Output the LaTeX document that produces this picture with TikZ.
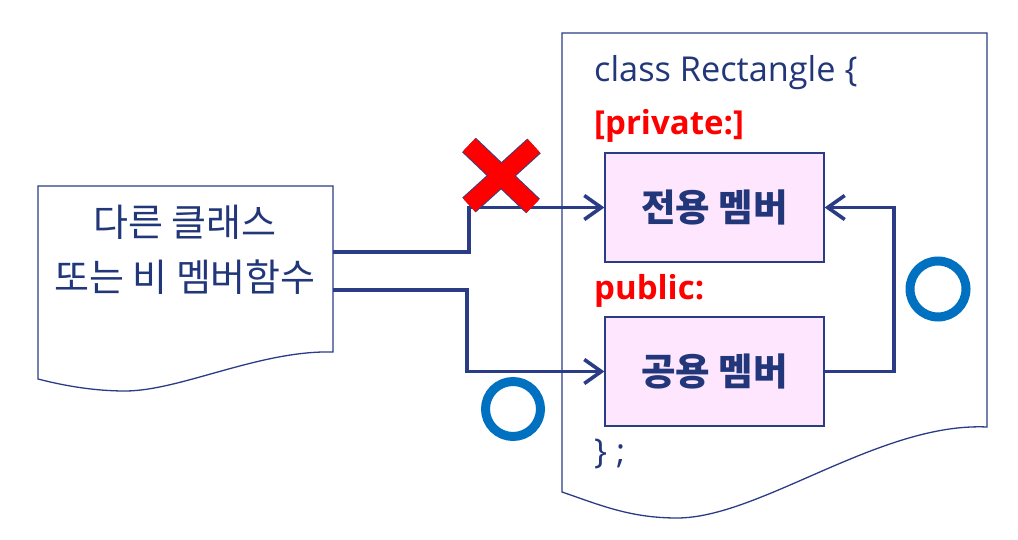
\documentclass[tikz,border=0pt]{standalone}
\usepackage{fontspec}
\setmainfont{Open Sans}
\newfontfamily\kr{Noto Sans CJK KR}
\usetikzlibrary{arrows.meta}
\definecolor{navy}{HTML}{2B3C87}
\definecolor{txt}{HTML}{22367A}
\definecolor{bl}{HTML}{0070C0}
\definecolor{pinkfill}{HTML}{FFE6FF}
\definecolor{xred}{HTML}{FF0000}
\definecolor{xline}{HTML}{3A3F80}
\begin{document}
\begin{tikzpicture}[x=1pt,y=-1pt,
  docshape/.style={draw=navy, line width=1.3pt, fill=white},
  memberbox/.style={draw=navy, line width=1.2pt, fill=pinkfill, minimum width=219pt, minimum height=109pt, inner sep=0pt, text=txt, font=\kr\bfseries\fontsize{37.5}{42}\selectfont},
  conn/.style={draw=navy, line width=3.8pt, line join=miter},
  arr/.style={-{Straight Barb[length=17pt,width=24pt,line width=3.6pt]}},
  okmark/.style={draw=bl, line width=9pt},
  krtext/.style={text=txt, font=\kr\fontsize{38}{44}\selectfont, inner sep=0pt},
  redlbl/.style={text=xred, font=\bfseries\fontsize{33}{38}\selectfont, inner sep=0pt, anchor=base west},
  code/.style={text=txt, font=\fontsize{34.3}{40}\selectfont, inner sep=0pt, anchor=base west}]
\useasboundingbox (0,0) rectangle (1018,540);
\fill[white] (0,0) rectangle (1018,540);

% left document
\draw[docshape] (38,186) -- (333,186) -- (333,352)
  .. controls (260,350) and (180,391) .. (125,391)
  .. controls (95,391) and (65,386) .. (38,379) -- cycle;
\node[krtext] (other1) at (185,222) {다른 클래스};
\node[krtext] (other2) at (185,277) {또는 비 멤버함수};
\coordinate (l1) at (333,252);
\coordinate (l2) at (333,290);

% right document
\draw[docshape] (562,33) -- (987,33) -- (987,427)
  .. controls (880,422) and (760,518) .. (677,518)
  .. controls (630,518) and (600,505) .. (562,492) -- cycle;
\node[code] (cls) at (594,82) {class Rectangle \{};
\node[redlbl] (privlbl) at (594,135) {[private:]};
\node[redlbl] (publbl) at (594,299) {public:};
\node[code] (endcls) at (594,463) {\} ;};

\node[memberbox] (priv) at (714.5,207.5) {전용 멤버};
\node[memberbox] (pub) at (714.5,371.5) {공용 멤버};

% connectors
\draw[conn, arr] (l1) -- (469,252) |- (priv.west);
\draw[conn, arr] (l2) -- (467,290) |- (pub.west);
\draw[conn, arr] (pub.east) -- (894,371.5) |- (priv.east);

% marks
\draw[okmark] (513,409) circle (27.5);
\draw[okmark] (938,289) circle (28);

\draw[xline, line width=20pt] (469,145) -- (533,206);
\draw[xline, line width=20pt] (534,146) -- (469,205);
\draw[xred, line width=18pt] (469,145) -- (533,206);
\draw[xred, line width=18pt] (534,146) -- (469,205);
\end{tikzpicture}
\end{document}
